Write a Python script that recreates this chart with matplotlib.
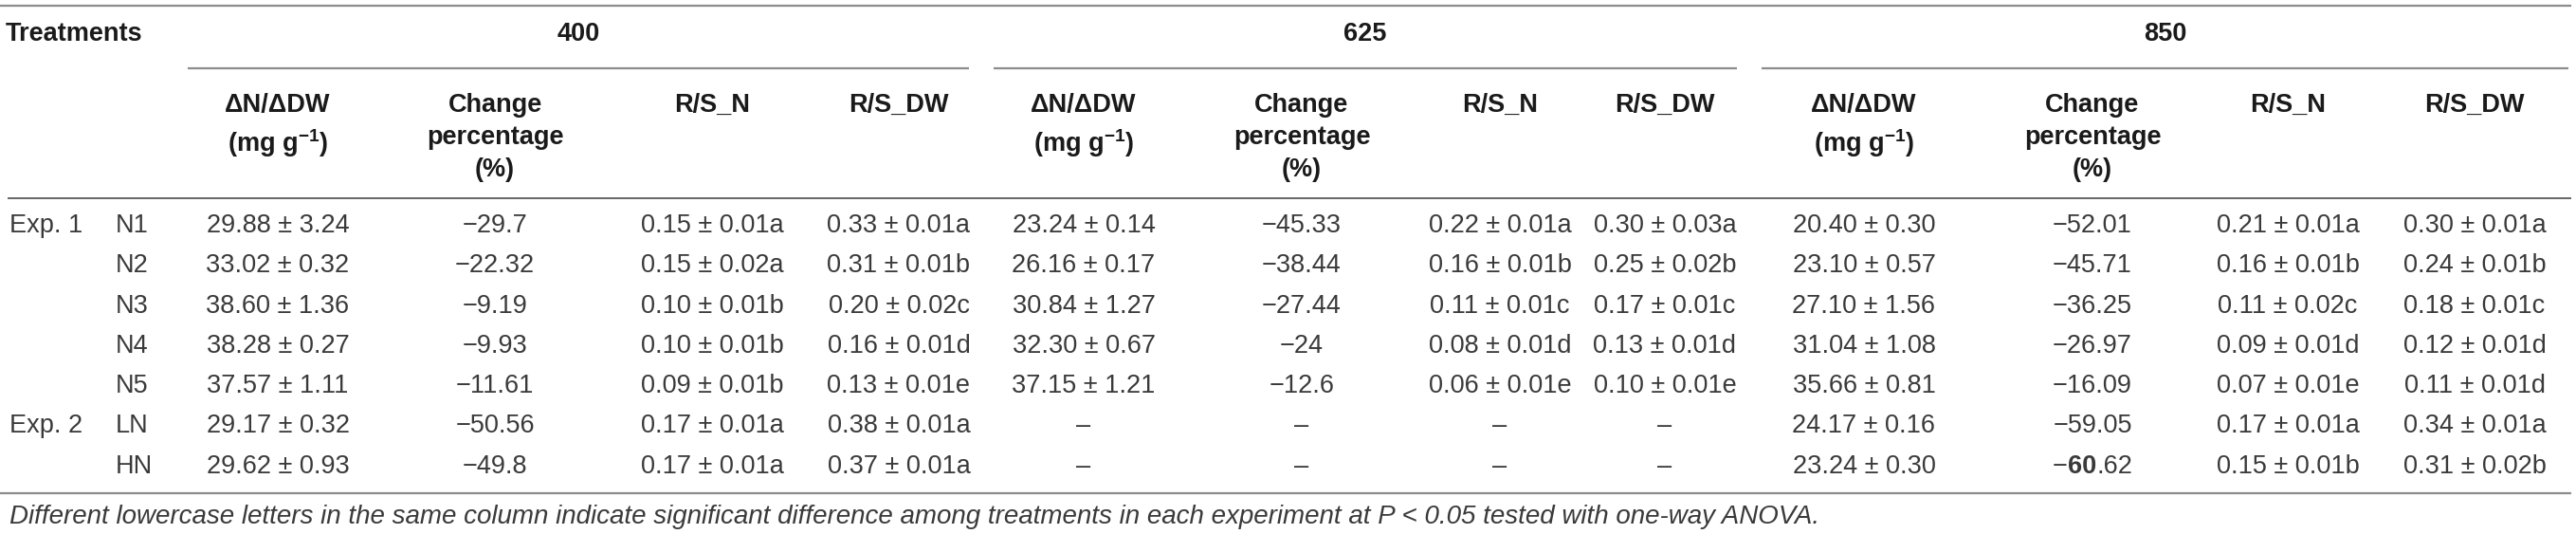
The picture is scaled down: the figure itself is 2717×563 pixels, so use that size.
import matplotlib
matplotlib.use("Agg")
import matplotlib.pyplot as plt

plt.rcParams['font.family'] = ['Liberation Sans', 'DejaVu Sans']
plt.rcParams['mathtext.fontset'] = 'custom'
plt.rcParams['mathtext.rm'] = 'Liberation Sans:bold'
plt.rcParams['mathtext.bf'] = 'Liberation Sans:bold'

# table content
groups = ['400', '625', '850']
col_heads = ['ΔN/ΔDW\n(mg g$^{-1}$)', 'Change\npercentage\n(%)', 'R/S_N', 'R/S_DW']
experiments = ['Exp. 1', '', '', '', '', 'Exp. 2', '']
treatments = ['N1', 'N2', 'N3', 'N4', 'N5', 'LN', 'HN']

dn_400 = ['29.88 ± 3.24', '33.02 ± 0.32', '38.60 ± 1.36', '38.28 ± 0.27', '37.57 ± 1.11', '29.17 ± 0.32', '29.62 ± 0.93']
chg_400 = ['−29.7', '−22.32', '−9.19', '−9.93', '−11.61', '−50.56', '−49.8']
rsn_400 = ['0.15 ± 0.01a', '0.15 ± 0.02a', '0.10 ± 0.01b', '0.10 ± 0.01b', '0.09 ± 0.01b', '0.17 ± 0.01a', '0.17 ± 0.01a']
rsdw_400 = ['0.33 ± 0.01a', '0.31 ± 0.01b', '0.20 ± 0.02c', '0.16 ± 0.01d', '0.13 ± 0.01e', '0.38 ± 0.01a', '0.37 ± 0.01a']

dn_625 = ['23.24 ± 0.14', '26.16 ± 0.17', '30.84 ± 1.27', '32.30 ± 0.67', '37.15 ± 1.21', '–', '–']
chg_625 = ['−45.33', '−38.44', '−27.44', '−24', '−12.6', '–', '–']
rsn_625 = ['0.22 ± 0.01a', '0.16 ± 0.01b', '0.11 ± 0.01c', '0.08 ± 0.01d', '0.06 ± 0.01e', '–', '–']
rsdw_625 = ['0.30 ± 0.03a', '0.25 ± 0.02b', '0.17 ± 0.01c', '0.13 ± 0.01d', '0.10 ± 0.01e', '–', '–']

dn_850 = ['20.40 ± 0.30', '23.10 ± 0.57', '27.10 ± 1.56', '31.04 ± 1.08', '35.66 ± 0.81', '24.17 ± 0.16', '23.24 ± 0.30']
chg_850 = ['−52.01', '−45.71', '−36.25', '−26.97', '−16.09', '−59.05', '−60.62']
rsn_850 = ['0.21 ± 0.01a', '0.16 ± 0.01b', '0.11 ± 0.02c', '0.09 ± 0.01d', '0.07 ± 0.01e', '0.17 ± 0.01a', '0.15 ± 0.01b']
rsdw_850 = ['0.30 ± 0.01a', '0.24 ± 0.01b', '0.18 ± 0.01c', '0.12 ± 0.01d', '0.11 ± 0.01d', '0.34 ± 0.01a', '0.31 ± 0.02b']

# (group, column, row) -> (start, end) of bold characters
bold_spans = {(2, 1, 6): (1, 3)}

footnote = ('Different lowercase letters in the same column indicate significant difference '
            'among treatments in each experiment at P < 0.05 tested with one-way ANOVA.')

columns = [[dn_400, chg_400, rsn_400, rsdw_400],
           [dn_625, chg_625, rsn_625, rsdw_625],
           [dn_850, chg_850, rsn_850, rsdw_850]]

# layout (pixels)
W, H = 2717, 563
col_x = [[293, 522, 751, 948], [1143, 1373, 1582, 1756], [1966, 2207, 2413, 2610]]
group_span = [(198, 1022), (1048, 1832), (1858, 2709)]
row_y0, row_dy = 238, 42.3
fs = 19.5
head_c = '#1a1a1a'
body_c = '#3a3a3a'
line_c = '#8c8c8c'

fig = plt.figure(figsize=(W / 100, H / 100), dpi=100)
ax = fig.add_axes([0, 0, 1, 1])
ax.set_xlim(0, W)
ax.set_ylim(H, 0)
ax.axis('off')
renderer = fig.canvas.get_renderer()

# rules
ax.hlines(6, 0, 2712, color=line_c, lw=1.6)
for a, b in group_span:
    ax.hlines(72, a, b, color=line_c, lw=1.6)
ax.hlines(209, 8, 2712, color='#666666', lw=1.4)
ax.hlines(520, 0, 2712, color=line_c, lw=1.6)

# header
ax.text(6, 36, 'Treatments', fontsize=fs, fontweight='bold', color=head_c, va='center', ha='left')
for g, (a, b) in zip(groups, group_span):
    ax.text((a + b) / 2, 36, g, fontsize=fs, fontweight='bold', color=head_c, va='center', ha='center')
for gi in range(3):
    for ci, head in enumerate(col_heads):
        ax.text(col_x[gi][ci], 98, head, fontsize=fs, fontweight='bold', color=head_c,
                va='top', ha='center', linespacing=1.4)


def rich_center(x, y, s, span):
    parts = [(s[:span[0]], 'normal'), (s[span[0]:span[1]], 'bold'), (s[span[1]:], 'normal')]
    objs = []
    for txt, wt in parts:
        t = ax.text(0, y, txt, fontsize=fs, fontweight=wt, color=body_c, va='center', ha='left')
        objs.append(t)
    widths = [t.get_window_extent(renderer).width for t in objs]
    cur = x - sum(widths) / 2
    for t, w in zip(objs, widths):
        t.set_x(cur)
        cur += w


# body
for r in range(len(treatments)):
    y = row_y0 + r * row_dy
    ax.text(10, y, experiments[r], fontsize=fs, color=body_c, va='center', ha='left')
    ax.text(122, y, treatments[r], fontsize=fs, color=body_c, va='center', ha='left')
    for gi in range(3):
        for ci in range(4):
            s = columns[gi][ci][r]
            if (gi, ci, r) in bold_spans:
                rich_center(col_x[gi][ci], y, s, bold_spans[(gi, ci, r)])
            else:
                ax.text(col_x[gi][ci], y, s, fontsize=fs, color=body_c, va='center', ha='center')

ax.text(10, 545, footnote, fontsize=20, fontstyle='italic', color=body_c, va='center', ha='left')

fig.savefig('out.png', dpi=100)
